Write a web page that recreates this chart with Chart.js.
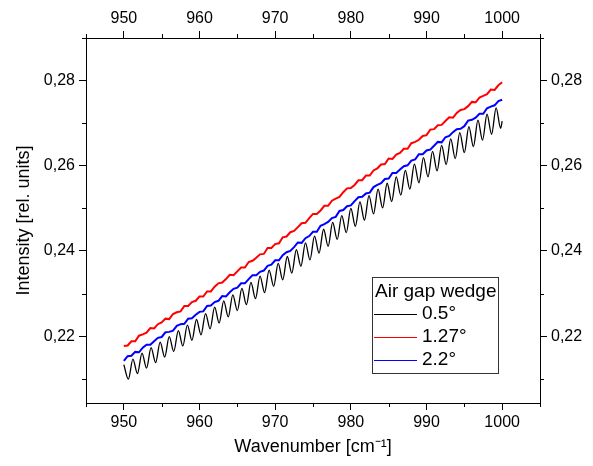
<!DOCTYPE html>
<html>
<head>
<meta charset="utf-8">
<script src="https://cdn.jsdelivr.net/npm/chart.js@4.4.1/dist/chart.umd.min.js"></script>
<style>
    body { margin: 0; background: #fff; }
    #wrap { width: 593px; height: 466px; }
</style>
</head>
<body>
<div id="wrap"><canvas id="wedge-chart"></canvas></div>
<script>
// sampled wavenumbers (cm-1) for the 1.27 and 2.2 degree traces
const wn = [
    950, 950.5, 951, 951.5, 952, 952.5, 953, 953.5, 954, 954.5, 955, 955.5, 956, 956.5, 957, 957.5, 958, 958.5, 959, 959.5, 960,
    960.5, 961, 961.5, 962, 962.5, 963, 963.5, 964, 964.5, 965, 965.5, 966, 966.5, 967, 967.5, 968, 968.5, 969, 969.5, 970,
    970.5, 971, 971.5, 972, 972.5, 973, 973.5, 974, 974.5, 975, 975.5, 976, 976.5, 977, 977.5, 978, 978.5, 979, 979.5, 980,
    980.5, 981, 981.5, 982, 982.5, 983, 983.5, 984, 984.5, 985, 985.5, 986, 986.5, 987, 987.5, 988, 988.5, 989, 989.5, 990,
    990.5, 991, 991.5, 992, 992.5, 993, 993.5, 994, 994.5, 995, 995.5, 996, 996.5, 997, 997.5, 998, 998.5, 999, 999.5, 1000
];

const red = [
    0.2177, 0.2178, 0.2188, 0.2188, 0.2201, 0.2204, 0.2208, 0.2219, 0.2218, 0.2228, 0.2232, 0.2241, 0.2240, 0.2252, 0.2256, 0.2258, 0.2271, 0.2271, 0.2280, 0.2283, 0.2293,
    0.2293, 0.2305, 0.2305, 0.2316, 0.2324, 0.2326, 0.2334, 0.2344, 0.2343, 0.2352, 0.2361, 0.2361, 0.2374, 0.2377, 0.2384, 0.2392, 0.2393, 0.2407, 0.2407, 0.2416,
    0.2418, 0.2432, 0.2434, 0.2444, 0.2447, 0.2456, 0.2465, 0.2466, 0.2477, 0.2487, 0.2487, 0.2495, 0.2506, 0.2506, 0.2518, 0.2523, 0.2527, 0.2538, 0.2547, 0.2548,
    0.2555, 0.2566, 0.2566, 0.2577, 0.2577, 0.2589, 0.2594, 0.2603, 0.2604, 0.2617, 0.2616, 0.2626, 0.2630, 0.2640, 0.2640, 0.2653, 0.2656, 0.2661, 0.2670, 0.2672,
    0.2685, 0.2686, 0.2695, 0.2696, 0.2705, 0.2714, 0.2713, 0.2724, 0.2731, 0.2733, 0.2740, 0.2750, 0.2749, 0.2760, 0.2764, 0.2768, 0.2779, 0.2778, 0.2789, 0.2796
];

const blue = [
    0.2142, 0.2153, 0.2154, 0.2163, 0.2162, 0.2173, 0.2180, 0.2180, 0.2188, 0.2196, 0.2198, 0.2209, 0.2210, 0.2213, 0.2224, 0.2228, 0.2229, 0.2241, 0.2242, 0.2250, 0.2257,
    0.2258, 0.2271, 0.2272, 0.2280, 0.2283, 0.2294, 0.2293, 0.2303, 0.2311, 0.2314, 0.2324, 0.2324, 0.2334, 0.2343, 0.2343, 0.2351, 0.2354, 0.2365, 0.2368, 0.2378,
    0.2378, 0.2390, 0.2397, 0.2400, 0.2409, 0.2420, 0.2419, 0.2430, 0.2435, 0.2445, 0.2445, 0.2459, 0.2463, 0.2468, 0.2477, 0.2480, 0.2494, 0.2496, 0.2505, 0.2507,
    0.2517, 0.2526, 0.2527, 0.2535, 0.2537, 0.2550, 0.2555, 0.2559, 0.2569, 0.2570, 0.2583, 0.2583, 0.2591, 0.2599, 0.2601, 0.2612, 0.2615, 0.2627, 0.2627, 0.2636,
    0.2638, 0.2647, 0.2656, 0.2655, 0.2667, 0.2670, 0.2679, 0.2686, 0.2687, 0.2693, 0.2706, 0.2708, 0.2713, 0.2722, 0.2722, 0.2735, 0.2739, 0.2742, 0.2752, 0.2755
];

// the 0.5 degree trace: fringe maxima and minima
const blackWn = [
    950.0, 950.6, 951.2, 951.8, 952.4, 953.0, 953.6, 954.2, 954.8, 955.4, 956.0, 956.6, 957.2, 957.8, 958.4, 959.0, 959.6,
    960.2, 960.8, 961.4, 962.0, 962.6, 963.2, 963.8, 964.4, 965.0, 965.6, 966.2, 966.8, 967.4, 968.0, 968.6, 969.2, 969.8,
    970.4, 971.0, 971.6, 972.2, 972.8, 973.4, 974.0, 974.6, 975.2, 975.8, 976.4, 977.0, 977.6, 978.2, 978.8, 979.4,
    980.0, 980.6, 981.2, 981.8, 982.4, 983.0, 983.6, 984.2, 984.8, 985.4, 986.0, 986.6, 987.2, 987.8, 988.4, 989.0, 989.6,
    990.2, 990.8, 991.4, 992.0, 992.6, 993.2, 993.8, 994.4, 995.0, 995.6, 996.2, 996.8, 997.4, 998.0, 998.6, 999.2, 999.8, 1000.0
];

const black = [
    0.2133, 0.2099, 0.2146, 0.2112, 0.2160, 0.2125, 0.2173, 0.2138, 0.2186, 0.2151, 0.2199, 0.2164, 0.2213, 0.2177, 0.2226, 0.2190, 0.2239,
    0.2203, 0.2253, 0.2217, 0.2268, 0.2231, 0.2283, 0.2245, 0.2297, 0.2260, 0.2312, 0.2274, 0.2326, 0.2288, 0.2341, 0.2302, 0.2355, 0.2317,
    0.2371, 0.2332, 0.2387, 0.2348, 0.2403, 0.2364, 0.2419, 0.2379, 0.2435, 0.2395, 0.2451, 0.2411, 0.2467, 0.2427, 0.2483, 0.2443,
    0.2500, 0.2458, 0.2515, 0.2472, 0.2530, 0.2487, 0.2545, 0.2501, 0.2559, 0.2516, 0.2574, 0.2531, 0.2589, 0.2545, 0.2604, 0.2560, 0.2619,
    0.2574, 0.2634, 0.2588, 0.2648, 0.2603, 0.2663, 0.2617, 0.2678, 0.2631, 0.2692, 0.2645, 0.2707, 0.2660, 0.2721, 0.2674, 0.2736, 0.2688, 0.2705
];

const seriesLabels = ['0.5°', '1.27°', '2.2°'];
const legendTitle = 'Air gap wedge';

const xTicks = [950, 960, 970, 980, 990, 1000];
const xMinor = [945, 955, 965, 975, 985, 995, 1005];
const yTicks = [0.22, 0.24, 0.26, 0.28];
const yMinor = [0.21, 0.23, 0.25, 0.27, 0.29];

const FONT = '"Liberation Sans", Arial, sans-serif';

function toPoints(xs, ys) {
    return xs.map((x, i) => ({ x: x, y: ys[i] }));
}

// short outward ticks between the labelled ones
const minorTicks = {
    id: 'minorTicks',
    afterDraw(chart) {
        const ctx = chart.ctx;
        const area = chart.chartArea;
        const len = 4;
        ctx.save();
        ctx.strokeStyle = '#000';
        ctx.lineWidth = 1;
        ctx.beginPath();
        xMinor.forEach(v => {
            const px = Math.round(chart.scales.x.getPixelForValue(v)) + 0.5;
            ctx.moveTo(px, area.bottom);
            ctx.lineTo(px, area.bottom + len);
            ctx.moveTo(px, area.top);
            ctx.lineTo(px, area.top - len);
        });
        yMinor.forEach(v => {
            const py = Math.round(chart.scales.y.getPixelForValue(v)) + 0.5;
            ctx.moveTo(area.left, py);
            ctx.lineTo(area.left - len, py);
            ctx.moveTo(area.right, py);
            ctx.lineTo(area.right + len, py);
        });
        ctx.stroke();
        ctx.restore();
    }
};

// boxed legend inside the plot, lower right
const insetLegend = {
    id: 'insetLegend',
    afterDraw(chart) {
        const ctx = chart.ctx;
        const x = 372, y = 277, w = 126, h = 96;
        ctx.save();
        ctx.fillStyle = '#fff';
        ctx.fillRect(x, y, w, h);
        ctx.strokeStyle = '#333';
        ctx.lineWidth = 1;
        ctx.strokeRect(x + 0.5, y + 0.5, w, h);
        ctx.font = '19px ' + FONT;
        ctx.fillStyle = '#000';
        ctx.textBaseline = 'middle';
        ctx.fillText(legendTitle, x + 3, y + 15);
        chart.data.datasets.forEach((ds, i) => {
            const ly = y + 37 + i * 23;
            ctx.strokeStyle = ds.borderColor;
            ctx.beginPath();
            ctx.moveTo(x + 2, ly + 0.5);
            ctx.lineTo(x + 45, ly + 0.5);
            ctx.stroke();
            ctx.fillText(ds.label, x + 50, ly);
        });
        ctx.restore();
    }
};

function axisStyle(extra) {
    return Object.assign({
        grid: { drawOnChartArea: false, tickLength: 7, color: '#000', tickColor: '#000' },
        border: { color: '#000', width: 1 },
        ticks: { color: '#000', font: { size: 16 }, padding: 3, maxRotation: 0, autoSkip: false, callback: v => String(v) }
    }, extra);
}

function initWedgeChart() {
    const canvas = document.getElementById('wedge-chart');
    if (!canvas) return;

    Chart.defaults.font.family = FONT;

    const yFmt = v => v.toFixed(2).replace('.', ',');
    const setX = s => { s.ticks = xTicks.map(v => ({ value: v })); };
    const setY = s => { s.ticks = yTicks.map(v => ({ value: v })); };

    new Chart(canvas.getContext('2d'), {
        type: 'line',
        data: {
            datasets: [
                {
                    label: seriesLabels[0],
                    data: toPoints(blackWn, black),
                    borderColor: '#000000',
                    borderWidth: 1.3,
                    cubicInterpolationMode: 'monotone',
                    pointRadius: 0,
                    order: 3
                },
                {
                    label: seriesLabels[1],
                    data: toPoints(wn, red),
                    borderColor: '#ff0000',
                    borderWidth: 2,
                    pointRadius: 0,
                    order: 2
                },
                {
                    label: seriesLabels[2],
                    data: toPoints(wn, blue),
                    borderColor: '#0000ff',
                    borderWidth: 2,
                    pointRadius: 0,
                    order: 1
                }
            ]
        },
        options: {
            responsive: true,
            maintainAspectRatio: false,
            animation: false,
            layout: { padding: 0 },
            scales: {
                x: axisStyle({
                    type: 'linear',
                    position: 'bottom',
                    min: 945,
                    max: 1005,
                    afterBuildTicks: setX,
                    afterFit: s => { s.height = 63; },
                    title: { display: true, text: 'Wavenumber [cm⁻¹]', color: '#000', font: { size: 18 }, padding: { bottom: 8 } }
                }),
                x2: axisStyle({
                    type: 'linear',
                    position: 'top',
                    min: 945,
                    max: 1005,
                    afterBuildTicks: setX,
                    afterFit: s => { s.height = 38; }
                }),
                y: axisStyle({
                    type: 'linear',
                    position: 'left',
                    min: 0.2043,
                    max: 0.29,
                    afterBuildTicks: setY,
                    afterFit: s => { s.width = 86; },
                    ticks: { color: '#000', font: { size: 16 }, padding: 4, callback: yFmt },
                    title: { display: true, text: 'Intensity [rel. units]', color: '#000', font: { size: 18 }, padding: { top: 13 } }
                }),
                y2: axisStyle({
                    type: 'linear',
                    position: 'right',
                    min: 0.2043,
                    max: 0.29,
                    afterBuildTicks: setY,
                    afterFit: s => { s.width = 53; },
                    ticks: { color: '#000', font: { size: 16 }, padding: 4, callback: yFmt }
                })
            },
            plugins: {
                legend: { display: false },
                tooltip: { enabled: false }
            }
        },
        plugins: [minorTicks, insetLegend]
    });
}

document.addEventListener('DOMContentLoaded', initWedgeChart);
</script>
</body>
</html>
